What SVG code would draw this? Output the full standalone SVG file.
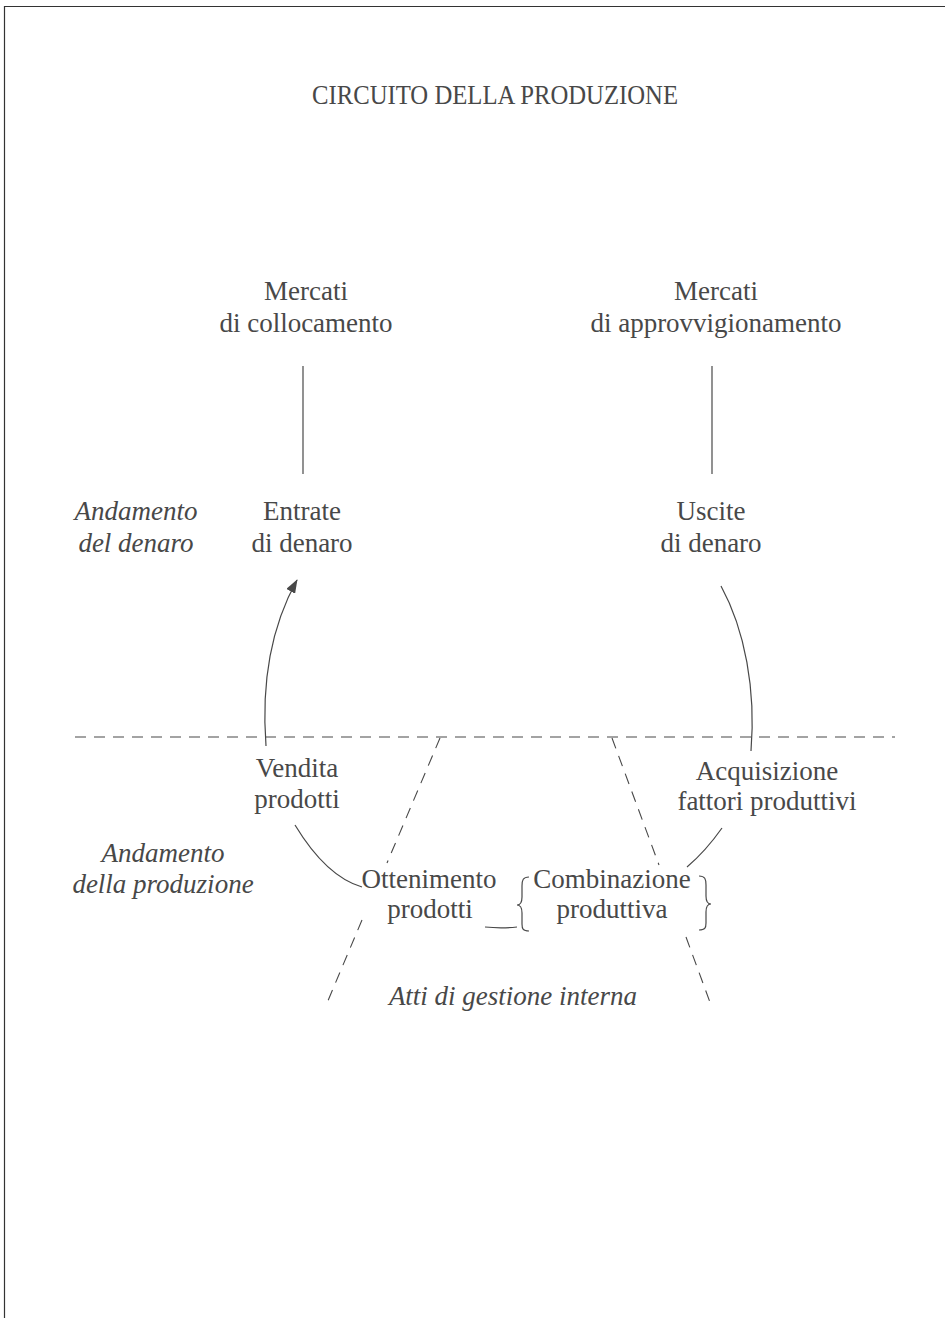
<svg xmlns="http://www.w3.org/2000/svg" width="945" height="1318" viewBox="0 0 945 1318">
  <style>
    .t { font-family: "Liberation Serif", "Times New Roman", serif; font-size: 27px; fill: #484848; text-anchor: middle; }
    .i { font-style: italic; }
    .ln { fill: none; stroke: #484848; stroke-width: 1.2; }
    .dash { fill: none; stroke: #484848; stroke-width: 1.1; stroke-dasharray: 11 8; }
  </style>
  <defs>
    <marker id="arrow" viewBox="0 0 14 10" refX="13" refY="5" markerWidth="14" markerHeight="10" markerUnits="userSpaceOnUse" orient="auto">
      <path d="M0,0 L14,5 L0,10 z" fill="#484848"/>
    </marker>
  </defs>
  <rect width="945" height="1318" fill="#ffffff"/>
  <!-- page frame -->
  <path d="M4.5,1318 L4.5,6.5 L945,6.5" fill="none" stroke="#333" stroke-width="1.2"/>

  <text class="t" x="495" y="104" font-size="32" textLength="366" lengthAdjust="spacingAndGlyphs">CIRCUITO DELLA PRODUZIONE</text>

  <g id="mercati-collocamento">
    <text class="t" x="306" y="300">Mercati</text>
    <text class="t" x="306" y="332">di collocamento</text>
  </g>
  <g id="mercati-approvvigionamento">
    <text class="t" x="716" y="300">Mercati</text>
    <text class="t" x="716" y="332">di approvvigionamento</text>
  </g>
  <g id="andamento-denaro">
    <text class="t i" x="136" y="520">Andamento</text>
    <text class="t i" x="136" y="552">del denaro</text>
  </g>
  <g id="entrate">
    <text class="t" x="302" y="520">Entrate</text>
    <text class="t" x="302" y="552">di denaro</text>
  </g>
  <g id="uscite">
    <text class="t" x="711" y="520">Uscite</text>
    <text class="t" x="711" y="552">di denaro</text>
  </g>
  <g id="vendita">
    <text class="t" x="297" y="777">Vendita</text>
    <text class="t" x="297" y="808">prodotti</text>
  </g>
  <g id="acquisizione">
    <text class="t" x="767" y="780">Acquisizione</text>
    <text class="t" x="767" y="810">fattori produttivi</text>
  </g>
  <g id="andamento-produzione">
    <text class="t i" x="163" y="862">Andamento</text>
    <text class="t i" x="163" y="893">della produzione</text>
  </g>
  <g id="ottenimento">
    <text class="t" x="429" y="888">Ottenimento</text>
    <text class="t" x="430" y="918">prodotti</text>
  </g>
  <g id="combinazione">
    <text class="t" x="612" y="888">Combinazione</text>
    <text class="t" x="612" y="918">produttiva</text>
    <path class="ln" d="M529,877 C523,877 522,880 522,886 L522,897 C522,902 520,905 517,905 C520,905 522,908 522,913 L522,924 C522,929 523,931 529,931"/>
    <path class="ln" d="M699,876 C705,876 706,879 706,885 L706,896 C706,901 708,904 711,904 C708,904 706,907 706,912 L706,923 C706,928 705,930 699,930"/>
  </g>
  <g id="atti">
    <text class="t i" x="513" y="1005">Atti di gestione interna</text>
  </g>

  <g id="connectors">
    <line class="ln" x1="303" y1="366" x2="303" y2="474"/>
    <line class="ln" x1="712" y1="366" x2="712" y2="474"/>
    <path class="ln" d="M266,746 C261,680 272,625 297,580" marker-end="url(#arrow)"/>
    <path class="ln" d="M721,586 C745,630 756,690 751,751"/>
    <path class="ln" d="M295,825 C315,858 338,880 362,887"/>
    <path class="ln" d="M485,927 C495,928 507,928 517,927"/>
    <path class="ln" d="M722,828 C710,845 700,856 687,867"/>
  </g>

  <g id="boundaries">
    <line class="dash" x1="75" y1="737" x2="895" y2="737"/>
    <!-- left boundary, interrupted by the Ottenimento label -->
    <line class="dash" x1="440" y1="738" x2="387" y2="863"/>
    <line class="dash" x1="362" y1="920" x2="327" y2="1003"/>
    <!-- right boundary, interrupted by the Combinazione label -->
    <line class="dash" x1="612" y1="738" x2="659" y2="865"/>
    <line class="dash" x1="686" y1="937" x2="711" y2="1005"/>
  </g>
</svg>
